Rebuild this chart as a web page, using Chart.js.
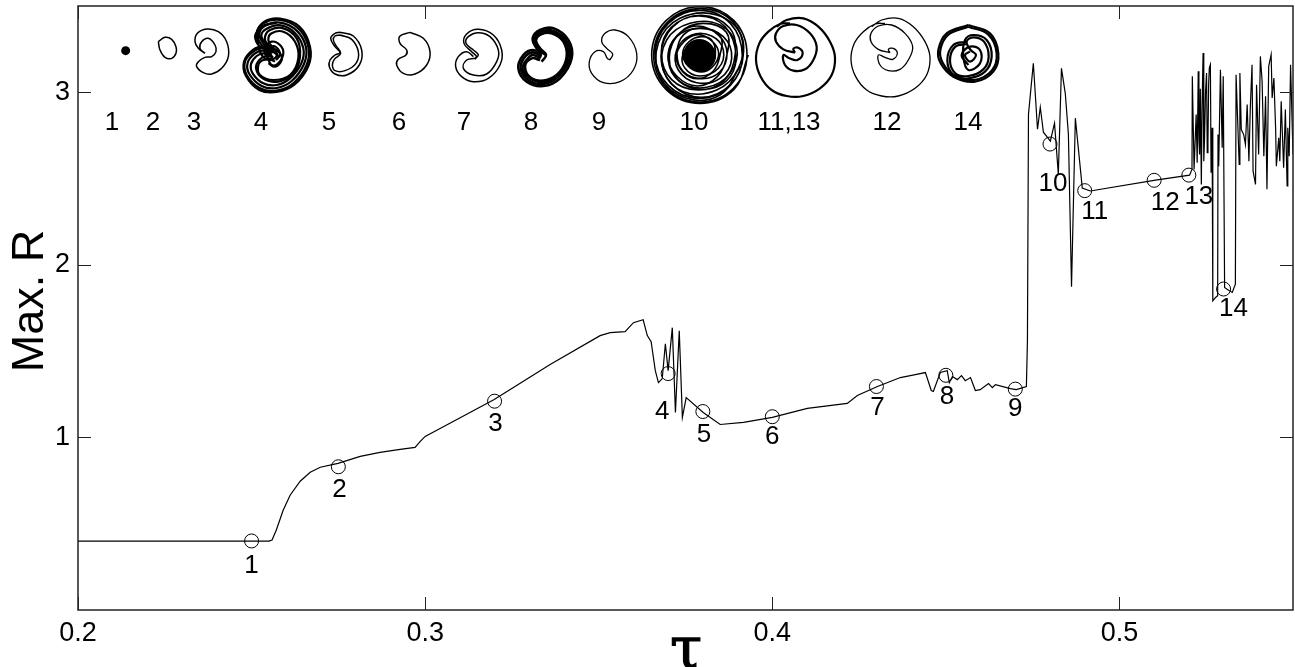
<!DOCTYPE html>
<html lang="en">
<head>
<meta charset="UTF-8">
<title>Max. R against tau</title>
<script src="https://cdn.jsdelivr.net/npm/chart.js"></script>
<style>
    body { margin: 0; background: #fff; }
    canvas { display: block; }
</style>
</head>
<body>
<canvas id="chart" width="1295" height="667"></canvas>
<script>
// main curve
const tau = [
    .2,.255,.2559,.2571,.2591,.2611,.264,.2669,.2698,.2749,.2813,.287,.2928,.2971,.2986,.3,.3043,.3199,.336,.3504,
    .3533,.3576,.36,.3628,.364,.3651,.3663,.3672,.3683,.3692,.37,.3712,.3721,.3732,.3741,.3752,.3801,.385,.3917,.4,
    .4101,.4216,.4245,.4303,.4369,.4412,.4441,.4458,.4464,.4484,.4504,.451,.4519,.4533,.4545,.4556,.4571,.4585,.4599,.4623,
    .4634,.4643,.4686,.4703,.4732,.4735,.4738,.4752,.4764,.4772,.4781,.4801,.4813,.4824,.4833,.4844,.4853,.4862,.4873,.4893,
    .4916,.5104,.5202,.5209,.521,.5215,.5221,.5224,.5227,.5229,.5231,.5233,.5236,.5238,.5241,.5243,.5245,.5248,.5251,.5253,.5255,.5257,.5259,.5262,.5264,.5267,
    .5269,.5277,.5283,.5284,.5286,.5291,.5296,.5299,.5303,.531,.5325,.5334,.5336,.5345,.5347,.5351,.5358,.5363,.5368,.5373,
    .5377,.5382,.5385,.5392,.5395,.5401,.5406,.5411,.5416,.5421,.5425,.543,.5437,.544,.5445,.545,.5452,.5459,.5462,.5466,
    .5473,.5478,.5483,.5485,.5489,.5493,.55
];
const maxR = [
    .399,.399,.405,.462,.578,.665,.746,.798,.827,.85,.89,.913,.931,.942,.977,1.006,1.052,1.22,1.422,1.59,
    1.607,1.613,1.665,1.682,1.59,1.555,1.387,1.318,1.341,1.543,1.387,1.636,1.145,1.618,1.116,1.231,1.145,1.075,1.087,1.116,
    1.168,1.197,1.243,1.295,1.347,1.364,1.376,1.272,1.266,1.376,1.387,1.318,1.353,1.335,1.358,1.329,1.347,1.272,1.277,1.312,
    1.289,1.306,1.283,1.277,1.295,1.561,2.873,3.168,2.786,2.913,2.769,2.717,2.821,2.526,3.139,2.994,2.757,1.873,2.85,2.445,
    2.428,2.491,2.52,2.553,3.093,2.553,2.871,2.592,3.122,2.72,2.64,3.02,2.466,2.91,3.228,2.6,2.717,3.0,3.112,2.65,2.707,3.05,3.141,3.16,2.534,2.794,
    1.792,1.811,1.821,2.755,2.572,3.131,2.678,3.093,1.869,1.859,1.84,1.888,3.102,2.582,3.112,2.784,2.755,2.698,2.929,2.601,
    2.91,3.16,2.543,2.466,3.044,2.64,3.208,3.064,2.63,2.977,2.438,3.15,3.218,2.967,3.083,2.784,2.572,2.736,2.601,2.948,
    2.563,2.9,2.457,2.794,2.63,3.16,2.64
];

// numbered circles on the curve
const markerTau = [.25,.275,.32,.37,.38,.4,.43,.45,.47,.48,.49,.51,.52,.53];
const markerR = [.4,.83,1.21,1.37,1.15,1.12,1.295,1.36,1.28,2.70,2.43,2.49,2.52,1.86];
const markerNames = ['1','2','3','4','5','6','7','8','9','10','11','12','13','14'];
const markerLabelOffset = [[0,25],[1,23],[1,23],[-6,38],[1,23],[0,20],[1,21],[1,22],[0,20],[3,40],[10,21],[11,23],[10,22],[10,20]];

const xTicks = [.2,.3,.4,.5];
const yTicks = [1,2,3];

// phase portraits, traced as x,y in picture units. left group
const portrait1 = [107,152];
const portrait2 = [205,125,225,112,245,118,258,140,258,160,245,175,225,172,210,150,205,125];
const portrait3 = [345,160,330,145,335,125,355,115,375,135,378,155,365,170,345,172,325,185,320,200,340,218,365,222,395,205,415,170,410,125,385,95,350,87,322,100,315,125,325,145,345,160];
const portrait4a = [545,165,520,145,490,155,465,185,470,225,510,265,560,272,610,250,650,195,655,140,625,85,570,60,520,70,500,100,515,135,545,160];
const portrait4b = [545,168,520,152,495,160,473,188,478,222,515,258,560,264,605,243,642,192,648,142,620,92,570,68,524,78,508,102,522,133,550,158];
const portrait4c = [548,170,522,160,500,168,483,192,488,220,520,250,560,255,600,235,634,190,640,145,614,98,572,76,530,86,514,106,528,132,553,155];
const portrait4d = [550,172,528,168,508,180,498,205,518,235,565,245,610,220,630,170,620,115,580,85,540,90,525,110,530,130,555,150,565,170];
const portrait4e = [555,185,530,170,525,145,545,125,570,135,580,160,565,190,545,195,535,175,535,150,550,138,565,148,570,165,558,180];
const portrait4f = [505,88,495,110,510,140,540,150,560,165,548,178,520,172,505,130,512,82,560,68];
const portrait4g = [505,130,500,100,522,66,570,56,628,80,660,140,655,198,612,255,560,276,508,270,468,228,462,185,488,150,520,140,545,158];
const portrait4h = [548,178,520,180,505,195,510,225,550,240,600,225,625,175,615,125,580,95,545,100,535,120,548,142,570,160,575,180,555,200,535,190];
const portrait5a = [750,97,790,108,815,150,808,195,770,225,735,222,718,200,720,180,735,165,750,158,735,140,722,115,735,100,750,97];
const portrait5b = [750,105,785,118,805,155,798,190,765,212,735,212,727,195,733,178,752,160,740,140,730,120,735,108,750,105];
const portrait6 = [960,97,1000,115,1020,155,1010,195,975,222,940,220,920,195,925,178,948,165,950,150,930,130,930,108,960,97];
const portrait7a = [1155,175,1130,180,1120,205,1150,225,1190,222,1220,185,1225,150,1200,110,1165,98,1135,110,1128,130,1150,150,1165,165,1155,175];
const portrait7b = [1150,170,1130,155,1105,170,1097,200,1115,230,1150,245,1195,235,1230,195,1235,150,1210,105,1165,88,1130,102,1122,130,1145,155,1160,170,1155,178];

// right group
const portrait8a = [65,165,40,150,10,165,-5,205,20,245,70,258,120,235,155,175,145,120,100,85,60,90,38,115,50,145,70,160];
const portrait8b = [65,170,40,157,15,170,2,205,25,240,70,252,115,230,149,175,139,123,98,92,62,96,44,118,55,143,72,162];
const portrait8c = [62,175,38,165,18,182,8,207,30,235,75,246,118,224,143,172,134,125,96,97,63,100,47,120,58,145,76,165];
const portrait8d = [60,180,35,175,15,200,35,235,80,240,120,215,140,170,130,125,95,100,65,102,48,120,60,145,78,165,65,185];
const portrait9 = [270,180,278,162,260,145,245,125,255,100,285,90,325,110,350,160,340,210,300,245,250,248,215,220,208,185,225,155,250,155,262,175,270,180];
const portrait10 = [
    685,165,642,268,540,310,438,268,395,165,438,62,540,20,642,62,
    681,166,640,265,541,306,442,265,401,166,442,67,541,26,640,67,
    670,163,631,256,538,295,445,256,406,163,445,70,538,31,631,70,
    667,168,633,252,545,292,457,254,423,168,459,80,545,46,629,84,
    646,160,613,241,534,270,455,239,424,158,453,83,534,48,615,80,
    648,170,619,243,548,268,475,241,448,172,479,99,548,70,619,97,
    620,168,592,230,532,258,470,228,444,168,472,106,532,78,596,106,
    621,160,599,216,545,236,489,214,471,160,491,104,545,84,601,108,
    599,170,580,213,535,236,490,217,469,170,492,125,535,104,580,127,
    596,162,578,200,542,216,504,198,488,160,506,126,544,110,578,124,
    585,172,566,203,535,212,505,196,490,168,512,138,538,122,566,140,
    580,160,560,190,530,200,508,185,498,160,516,136,545,128,570,142
];
const portrait10b = [
    660,200,600,285,500,295,420,230,415,130,480,55,590,45,665,110,655,205,590,270,490,275,430,210,440,120,510,70,
    600,75,650,140,630,220,560,262,480,245,445,180,470,110,540,85,610,110,635,175,600,235,530,248,475,210,470,150,
    515,105,575,108,610,150,595,205,540,228,495,205,490,160,530,125,570,135,585,175,555,210,515,195
];
const portrait10Centre = [538,165];
const portrait11 = [825,158,820,146,835,143,848,160,832,180,808,175,790,165,795,195,820,212,855,208,880,180,890,140,870,100,830,75,790,78,768,100,768,125,790,148,825,158];
const portrait11Outer = [770,80,800,60,850,55,895,80,930,125,945,172,935,225,900,265,850,288,800,288,755,270,722,230,708,180,718,130,745,95,780,72,810,70];
const portrait12 = [1110,158,1105,148,1120,145,1132,160,1118,178,1095,172,1075,165,1080,195,1105,212,1140,208,1165,180,1178,140,1155,100,1115,75,1075,78,1053,100,1053,125,1075,148,1110,158];
const portrait12Outer = [1055,80,1085,60,1135,55,1180,80,1215,125,1230,172,1220,225,1185,265,1135,288,1085,288,1040,270,1007,230,993,180,1003,130,1030,95,1065,72,1095,70];
const portrait14a = [1345,75,1410,100,1435,160,1420,215,1365,245,1300,230,1262,190,1255,150,1280,100,1345,75];
const portrait14b = [1345,80,1405,104,1430,160,1415,212,1362,240,1303,226,1268,188,1261,150,1285,104,1345,80];
const portrait14c = [1340,125,1300,135,1282,180,1300,225,1345,235,1395,215,1415,170,1400,120,1360,105,1335,120,1330,170,1345,210,1380,190,1380,150,1350,140,1325,165,1345,195];
const portrait14d = [1340,132,1306,140,1290,180,1306,220,1345,228,1390,208,1406,170,1392,125,1360,112,1340,125,1352,150,1368,165,1350,185,1335,165,1350,155];

const portraitLabels = ['1','2','3','4','5','6','7','8','9','10','11,13','12','14'];
const portraitLabelX = [112,153,194,261,329,399,464,531,599,694,789,887,968];

function pairs(flat) {
    const out = [];
    for (let i = 0; i < flat.length; i += 2) out.push({ x: flat[i], y: flat[i + 1] });
    return out;
}

function portraitSet(flat, axis, width) {
    return {
        data: pairs(flat), xAxisID: axis, yAxisID: 'inY', showLine: true, tension: 0.4,
        borderColor: '#000', borderWidth: width, pointRadius: 0, order: 3
    };
}

const datasets = [
    {
        data: tau.map((t, i) => ({ x: t, y: maxR[i] })), showLine: true,
        borderColor: '#000', borderWidth: 1.2, pointRadius: 0, order: 2
    },
    {
        data: markerTau.map((t, i) => ({ x: t, y: markerR[i] })), showLine: false,
        pointRadius: 7, pointBackgroundColor: 'transparent', pointBorderColor: '#000', pointBorderWidth: 1, order: 1
    },
    {
        data: pairs(portrait1), xAxisID: 'inL', yAxisID: 'inY', showLine: false,
        pointRadius: 4.5, pointBackgroundColor: '#000', pointBorderWidth: 0
    },
    {
        data: pairs(portrait10Centre), xAxisID: 'inR', yAxisID: 'inY', showLine: false,
        pointRadius: 16, pointBackgroundColor: '#000', pointBorderWidth: 0
    }
];
[portrait2, portrait3, portrait5a, portrait5b, portrait6, portrait7a, portrait7b].forEach(p => datasets.push(portraitSet(p, 'inL', 1.5)));
[portrait4a, portrait4b, portrait4c, portrait4d, portrait4e, portrait4f, portrait4g, portrait4h].forEach(p => datasets.push(portraitSet(p, 'inL', 2.2)));
[portrait8a, portrait8b, portrait8c, portrait8d].forEach(p => datasets.push(portraitSet(p, 'inR', 2.6)));
datasets.push(portraitSet(portrait9, 'inR', 1.3));
datasets.push(portraitSet(portrait10, 'inR', 1.6));
datasets.push(portraitSet(portrait10b, 'inR', 1.6));
[portrait11, portrait11Outer].forEach(p => datasets.push(portraitSet(p, 'inR', 2.2)));
[portrait12, portrait12Outer].forEach(p => datasets.push(portraitSet(p, 'inR', 1.3)));
[portrait14a, portrait14b, portrait14c, portrait14d].forEach(p => datasets.push(portraitSet(p, 'inR', 2.2)));

// frame, inward ticks on all four sides, and the number labels
const framePlugin = {
    id: 'frame',
    afterDatasetsDraw(chart) {
        const { ctx, chartArea: a, scales } = chart;
        ctx.save();
        ctx.strokeStyle = '#222';
        ctx.lineWidth = 1.5;
        ctx.strokeRect(a.left, a.top, a.right - a.left, a.bottom - a.top);
        ctx.lineWidth = 1;
        ctx.beginPath();
        xTicks.forEach(v => {
            const x = Math.round(scales.x.getPixelForValue(v)) + .5;
            ctx.moveTo(x, a.bottom); ctx.lineTo(x, a.bottom - 13);
            ctx.moveTo(x, a.top); ctx.lineTo(x, a.top + 13);
        });
        yTicks.forEach(v => {
            const y = Math.round(scales.y.getPixelForValue(v)) + .5;
            ctx.moveTo(a.left, y); ctx.lineTo(a.left + 13, y);
            ctx.moveTo(a.right, y); ctx.lineTo(a.right - 13, y);
        });
        ctx.stroke();

        ctx.fillStyle = '#000';
        ctx.textAlign = 'center';
        ctx.textBaseline = 'middle';
        ctx.font = "26px 'Liberation Sans'";
        markerNames.forEach((s, i) => {
            ctx.fillText(s,
                scales.x.getPixelForValue(markerTau[i]) + markerLabelOffset[i][0],
                scales.y.getPixelForValue(markerR[i]) + markerLabelOffset[i][1]);
        });
        portraitLabels.forEach((s, i) => ctx.fillText(s, portraitLabelX[i], 123));

        ctx.font = "45px 'Liberation Sans'";
        ctx.textBaseline = 'alphabetic';
        ctx.save();
        ctx.translate(43, 301);
        ctx.rotate(-Math.PI / 2);
        ctx.fillText('Max. R', 0, 0);
        ctx.restore();

        // regular glyph thickened a little, the bold one is too wide
        ctx.font = "58px 'DejaVu Serif'";
        ctx.fillText('τ', 686, 668);
        ctx.strokeStyle = '#000';
        ctx.lineWidth = 1.2;
        ctx.strokeText('τ', 686, 668);
        ctx.restore();
    }
};

// tick labels of x and y must not push the plot area in
function noPadding(s) {
    s.paddingTop = s.paddingBottom = s.paddingLeft = s.paddingRight = 0;
}

new Chart(document.getElementById('chart'), {
    type: 'scatter',
    data: { datasets },
    plugins: [framePlugin],
    options: {
        responsive: false,
        devicePixelRatio: 1,
        animation: false,
        layout: { autoPadding: false, padding: { top: 6, right: 2, left: 0, bottom: 0 } },
        plugins: { legend: { display: false }, tooltip: { enabled: false } },
        scales: {
            x: {
                type: 'linear', min: .2, max: .55,
                grid: { display: false, drawTicks: false }, border: { display: false },
                afterBuildTicks: s => { s.ticks = xTicks.map(v => ({ value: v })); },
                afterFit: s => { s.height = 57; noPadding(s); },
                ticks: {
                    maxRotation: 0, padding: 7, color: '#000',
                    font: { family: 'Liberation Sans', size: 27 },
                    callback: v => v.toFixed(1)
                }
            },
            y: {
                type: 'linear', min: 0, max: 3.5,
                grid: { display: false, drawTicks: false }, border: { display: false },
                afterBuildTicks: s => { s.ticks = yTicks.map(v => ({ value: v })); },
                afterFit: s => { s.width = 78; noPadding(s); },
                ticks: {
                    padding: 8, color: '#000',
                    font: { family: 'Liberation Sans', size: 27 },
                    callback: v => String(v)
                }
            },
            inL: { type: 'linear', display: false, min: -36, max: 3609 },
            inR: { type: 'linear', display: false, min: -1326, max: 2319 },
            inY: { type: 'linear', display: false, reverse: true, min: 18, max: 1830 }
        }
    }
});
</script>
</body>
</html>
